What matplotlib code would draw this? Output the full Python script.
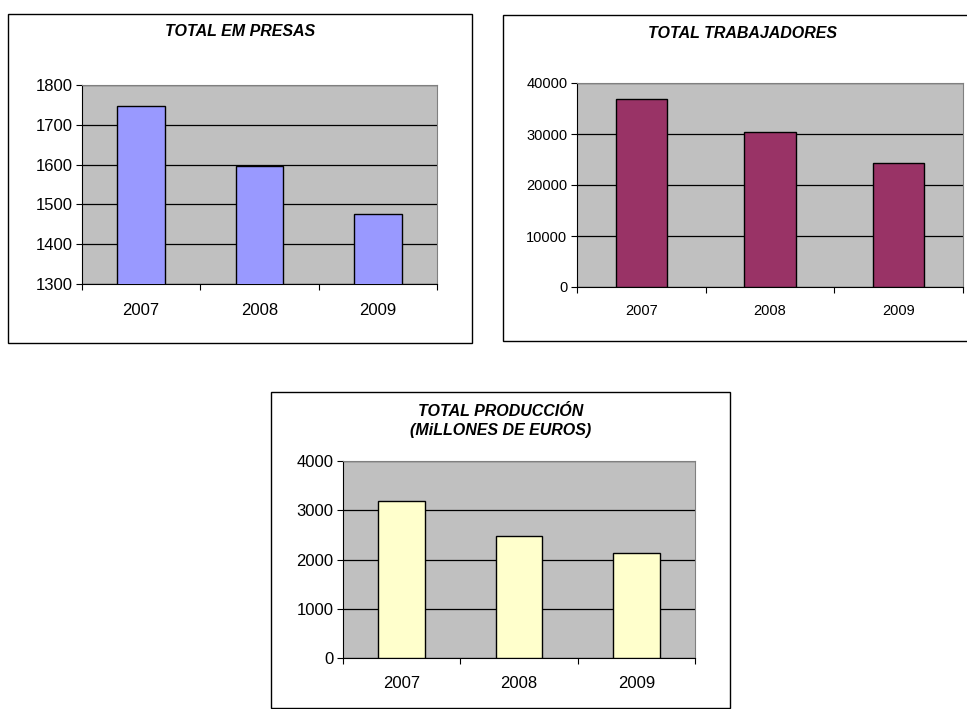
import matplotlib.pyplot as plt
from matplotlib.patches import Rectangle

# datos
anos = ['2007', '2008', '2009']
empresas = [1748, 1597, 1477]
trabajadores = [36770, 30360, 24260]
produccion = [3196, 2485, 2132]

W, H = 967, 709
plt.rcParams['font.family'] = ['Liberation Sans', 'DejaVu Sans']

fig = plt.figure(figsize=(W / 100, H / 100), dpi=100)
fig.patch.set_facecolor('white')


def caja(x0, y0, x1, y1):
    # marco exterior en pixeles
    fig.add_artist(Rectangle((x0 / W, 1 - y1 / H), (x1 - x0) / W, (y1 - y0) / H,
                             transform=fig.transFigure, fill=False,
                             edgecolor='black', linewidth=1.0))


def grafico(px, valores, color, ymin, ymax, paso, titulo, ty, fs, xpad):
    x0, y0, x1, y1 = px
    ax = fig.add_axes([x0 / W, 1 - y1 / H, (x1 - x0) / W, (y1 - y0) / H])
    ax.set_facecolor('#C0C0C0')
    pos = range(len(anos))
    ax.bar(pos, valores, width=0.4, color=color, edgecolor='black',
           linewidth=1.0, zorder=3)
    ax.set_xlim(-0.5, len(anos) - 0.5)
    ax.set_ylim(ymin, ymax)
    ax.set_yticks(range(ymin, ymax + 1, paso))
    ax.yaxis.grid(True, color='black', linewidth=0.9, zorder=1)
    ax.set_axisbelow(True)
    ax.set_xticks([i - 0.5 for i in range(len(anos) + 1)])
    ax.set_xticklabels([])
    ax.set_xticks(list(pos), minor=True)
    ax.set_xticklabels(anos, minor=True)
    ax.tick_params(axis='x', which='major', direction='out', length=4, width=0.8)
    ax.tick_params(axis='x', which='minor', length=0, pad=xpad, labelsize=fs)
    ax.tick_params(axis='y', direction='out', length=4, width=0.8, labelsize=fs, pad=3)
    for s in ['top', 'right']:
        ax.spines[s].set_color('#808080')
    for s in ['left', 'bottom']:
        ax.spines[s].set_color('black')
    fig.text(ty[0] / W, 1 - ty[1] / H, titulo, ha='center', va='center',
             fontsize=11.5, fontweight='bold', fontstyle='italic',
             linespacing=1.4)
    return ax


caja(8, 14, 472, 343)
grafico((82, 85, 437, 284), empresas, '#9999FF', 1300, 1800, 100,
        'TOTAL EM PRESAS', (240, 32), 12, 14)

caja(503, 15, 968, 341)
grafico((577, 83, 963, 287), trabajadores, '#993366', 0, 40000, 10000,
        'TOTAL TRABAJADORES', (743, 33), 10.5, 12)

caja(271, 392, 730, 708)
grafico((343, 461, 695, 658), produccion, '#FFFFCC', 0, 4000, 1000,
        'TOTAL PRODUCCIÓN\n(MiLLONES DE EUROS)', (501, 421), 12, 13)

fig.savefig('out.png', dpi=100, facecolor='white')
